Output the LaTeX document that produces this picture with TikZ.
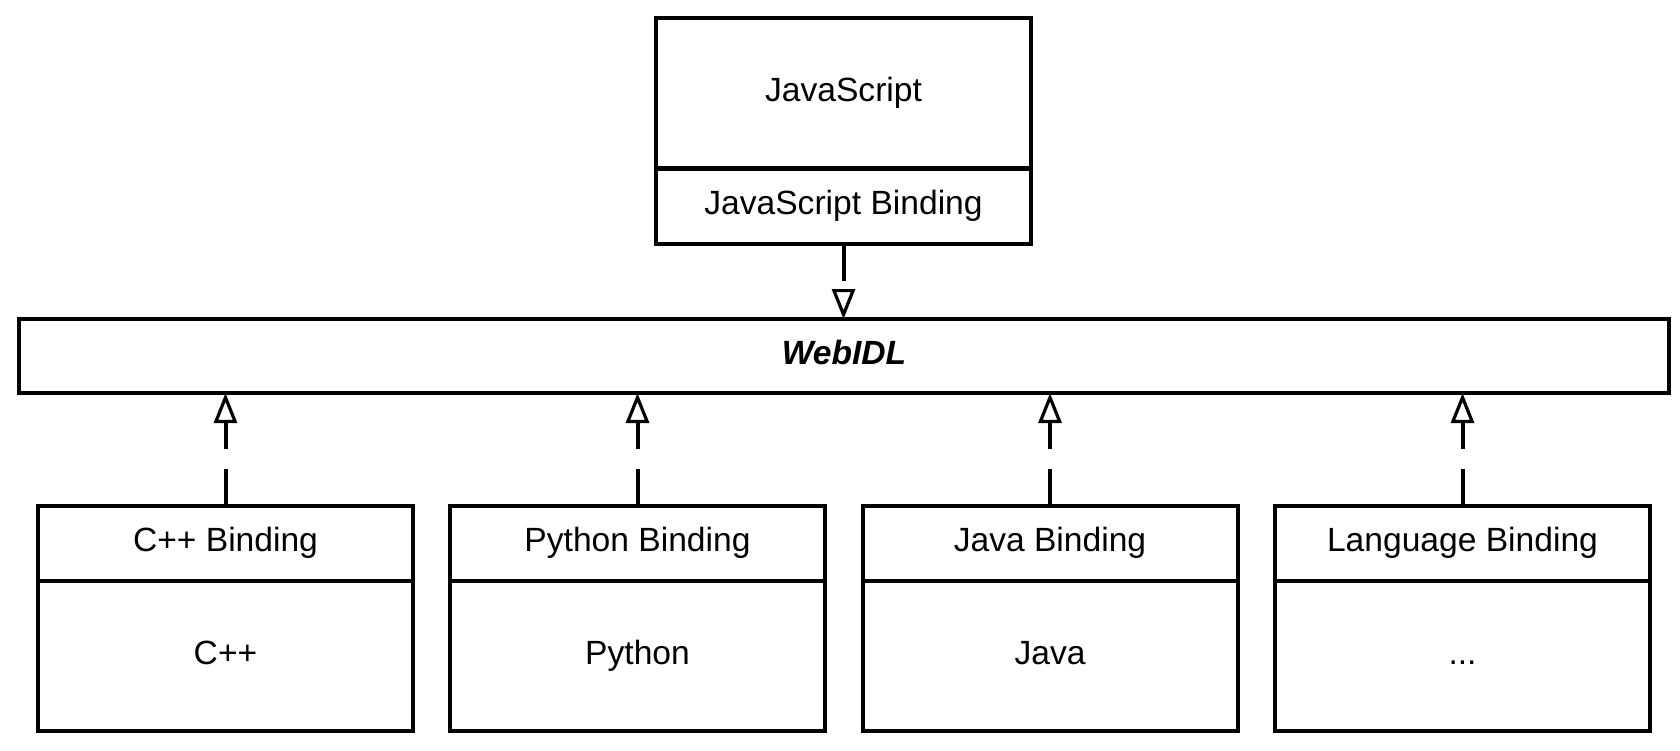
\documentclass[tikz,border=0pt]{standalone}
\usepackage{fontspec}
\setmainfont{Liberation Sans}
\usetikzlibrary{arrows.meta}
\begin{document}
\begin{tikzpicture}[x=0.5pt,y=-0.5pt,
  box/.style={draw=black, line width=2pt, fill=white, inner sep=0pt, outer sep=0pt,
    minimum width=187.5pt, font=\fontsize{16.8}{19}\selectfont, text=black,
    text height=12pt, text depth=3.8pt},
  small/.style={box, minimum height=37.5pt},
  tall/.style={box, minimum height=75pt},
  dep/.style={draw=black, line width=2pt, dash pattern=on 18.5pt off 10pt,
    -{Triangle[open, length=15pt, width=11.5pt, line width=1.6pt]}}]
\useasboundingbox (0,0) rectangle (1680,750);
% JavaScript
\node[tall]  (js)  at (843.5,93)  {JavaScript};
\node[small] (jsb) at (843.5,206) {JavaScript Binding};
% WebIDL
\node[box, minimum width=825pt, minimum height=37pt, font=\fontsize{16.8}{19}\selectfont\bfseries\itshape] (webidl) at (844,356) {WebIDL};
% bindings
\node[small] (cppb)  at (225.5,543.5)  {C++ Binding};
\node[tall]  (cppl)  at (225.5,656)    {C++};
\node[small] (pyb)   at (637.5,543.5)  {Python Binding};
\node[tall]  (pyl)   at (637.5,656)    {Python};
\node[small] (javab) at (1050,543.5)   {Java Binding};
\node[tall]  (laval) at (1050,656)     {Java};
\node[small] (langb) at (1462.5,543.5) {Language Binding};
\node[tall]  (langl) at (1462.5,656)   {...};
% dependencies
\draw[dep] (jsb.south) -- (jsb.south |- webidl.north);
\draw[dep] (cppb.north) -- (cppb.north |- webidl.south);
\draw[dep] (pyb.north) -- (pyb.north |- webidl.south);
\draw[dep] (javab.north) -- (javab.north |- webidl.south);
\draw[dep] (langb.north) -- (langb.north |- webidl.south);
\end{tikzpicture}
\end{document}
